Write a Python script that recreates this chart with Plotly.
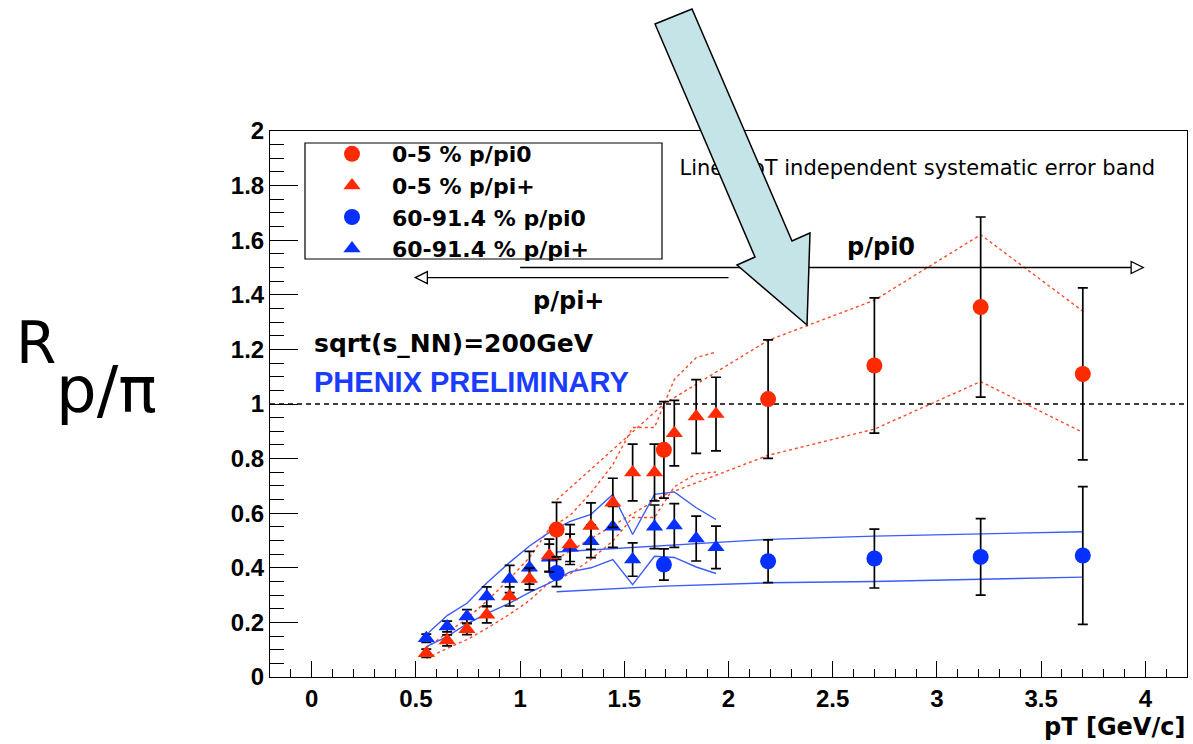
import plotly.graph_objects as go

# ---------------- data ----------------
# 0-5 % and 60-91.4 % p/pi0 (circles)
pt_pi0 = [1.175, 1.69, 2.19, 2.70, 3.21, 3.70]
central_pi0 = [0.540, 0.832, 1.018, 1.141, 1.355, 1.110]
central_pi0_err = [0.100, 0.177, 0.217, 0.248, 0.330, 0.315]
periph_pi0 = [0.381, 0.412, 0.424, 0.434, 0.440, 0.445]
periph_pi0_err = [0.050, 0.057, 0.078, 0.108, 0.140, 0.252]

# 0-5 % p/pi+ (red triangles)
pt_pip = [0.55, 0.65, 0.745, 0.84, 0.95, 1.045, 1.14, 1.24, 1.34, 1.445, 1.54, 1.645, 1.74, 1.845, 1.94]
central_pip = [0.087, 0.134, 0.175, 0.228, 0.295, 0.359, 0.445, 0.485, 0.553, 0.638, 0.749, 0.749, 0.893, 0.954, 0.963]
central_pip_err = [0.015, 0.02, 0.02, 0.03, 0.035, 0.04, 0.06, 0.073, 0.085, 0.09, 0.104, 0.104, 0.12, 0.135, 0.135]

# 60-91.4 % p/pi+ (blue triangles)
periph_pip = [0.142, 0.185, 0.222, 0.295, 0.359, 0.400, 0.437, 0.473, 0.497, 0.550, 0.430, 0.550, 0.555, 0.507, 0.475]
periph_pip_err = [0.015, 0.02, 0.025, 0.035, 0.05, 0.06, 0.05, 0.05, 0.06, 0.075, 0.061, 0.08, 0.08, 0.082, 0.078]

# systematic error bands
central_pi0_band_hi = [0.648, 1.000, 1.233, 1.380, 1.620, 1.340]
central_pi0_band_lo = [0.432, 0.666, 0.812, 0.908, 1.082, 0.896]
periph_pi0_band_hi = [0.458, 0.482, 0.504, 0.516, 0.524, 0.532]
periph_pi0_band_lo = [0.312, 0.333, 0.345, 0.350, 0.358, 0.366]
central_pip_band_hi = [0.106, 0.163, 0.214, 0.278, 0.360, 0.438, 0.543, 0.592, 0.675, 0.778, 0.914, 0.914, 1.090, 1.170, 1.190]
central_pip_band_lo = [0.068, 0.105, 0.137, 0.178, 0.230, 0.280, 0.347, 0.378, 0.431, 0.498, 0.584, 0.584, 0.697, 0.744, 0.751]
periph_pip_band_hi = [0.155, 0.225, 0.270, 0.344, 0.420, 0.480, 0.530, 0.570, 0.596, 0.669, 0.522, 0.669, 0.678, 0.620, 0.577]
periph_pip_band_lo = [0.111, 0.148, 0.195, 0.232, 0.271, 0.310, 0.344, 0.385, 0.400, 0.430, 0.338, 0.442, 0.438, 0.403, 0.379]

legend_names = ["0-5 % p/pi0", "0-5 % p/pi+", "60-91.4 % p/pi0", "60-91.4 % p/pi+"]

# ---------------- style ----------------
RED = "#ff2a00"
BLUE = "#0530ff"
RED_BAND = "#ff4a2a"
BLUE_BAND = "#3a5cff"
FONT = "Liberation Sans"
WIDE = "DejaVu Sans"

W, H = 1193, 744
L, R, T, B = 270, 6, 131, 67
PW, PH = W - L - R, H - T - B


def pxx(px):
    return (px - L) / PW


def pxy(py):
    return (H - B - py) / PH


fig = go.Figure()

# bands
for xs, ys, col, dash in [
    (pt_pip, central_pip_band_hi, RED_BAND, "3px,3px"),
    (pt_pip, central_pip_band_lo, RED_BAND, "3px,3px"),
    (pt_pi0, central_pi0_band_hi, RED_BAND, "3px,3px"),
    (pt_pi0, central_pi0_band_lo, RED_BAND, "3px,3px"),
    (pt_pip, periph_pip_band_hi, BLUE_BAND, "solid"),
    (pt_pip, periph_pip_band_lo, BLUE_BAND, "solid"),
    (pt_pi0, periph_pi0_band_hi, BLUE_BAND, "solid"),
    (pt_pi0, periph_pi0_band_lo, BLUE_BAND, "solid"),
]:
    fig.add_trace(go.Scatter(x=xs, y=ys, mode="lines", showlegend=False, hoverinfo="skip",
                             line=dict(color=col, width=1.4, dash=dash)))

err_style = dict(type="data", color="black", thickness=1.7, width=5)

fig.add_trace(go.Scatter(x=pt_pip, y=periph_pip, mode="markers", name=legend_names[3], legendrank=4,
                         marker=dict(symbol="triangle-up", size=15, color=BLUE),
                         error_y=dict(array=periph_pip_err, **err_style)))
fig.add_trace(go.Scatter(x=pt_pi0, y=periph_pi0, mode="markers", name=legend_names[2], legendrank=3,
                         marker=dict(symbol="circle", size=16, color=BLUE),
                         error_y=dict(array=periph_pi0_err, **err_style)))
fig.add_trace(go.Scatter(x=pt_pip, y=central_pip, mode="markers", name=legend_names[1], legendrank=2,
                         marker=dict(symbol="triangle-up", size=15, color=RED),
                         error_y=dict(array=central_pip_err, **err_style)))
fig.add_trace(go.Scatter(x=pt_pi0, y=central_pi0, mode="markers", name=legend_names[0], legendrank=1,
                         marker=dict(symbol="circle", size=16, color=RED),
                         error_y=dict(array=central_pi0_err, **err_style)))

# text partly hidden under the big arrow
fig.add_trace(go.Scatter(x=[1.765], y=[1.858], mode="text", showlegend=False, hoverinfo="skip",
                         text=["Linear pT independent systematic error band"], textposition="middle right",
                         textfont=dict(family=WIDE, size=21, color="black")))

shapes = []
# dashed reference line at 1
shapes.append(dict(type="line", xref="paper", yref="y", x0=0, x1=1, y0=1, y1=1,
                   line=dict(color="black", width=1.3, dash="5px,4px"), layer="below"))
# p/pi0 and p/pi+ range arrows
ARR_PI0 = dict(x0=1.0, x1=3.99, y=1.50)
ARR_PIP = dict(x0=2.0, x1=0.497, y=1.463)
HEAD_L, HEAD_H = 0.058, 0.022
for a in (ARR_PI0, ARR_PIP):
    sgn = 1 if a["x1"] > a["x0"] else -1
    base = a["x1"] - sgn * HEAD_L
    shapes.append(dict(type="line", xref="x", yref="y", x0=a["x0"], x1=base, y0=a["y"], y1=a["y"],
                       line=dict(color="black", width=1.3)))
    shapes.append(dict(type="path", xref="x", yref="y",
                       path=f"M {base},{a['y'] - HEAD_H} L {a['x1']},{a['y']} L {base},{a['y'] + HEAD_H} Z",
                       fillcolor="white", line=dict(color="black", width=1.3)))
# legend frame
LEG_BOX = (305, 143, 662, 259)
shapes.append(dict(type="rect", xref="paper", yref="paper",
                   x0=pxx(LEG_BOX[0]), x1=pxx(LEG_BOX[2]), y0=pxy(LEG_BOX[3]), y1=pxy(LEG_BOX[1]),
                   fillcolor="white", line=dict(color="black", width=1.2), layer="above"))
# big light-blue pointer arrow (decoration)
BIG_ARROW = [(655, 24), (692, 9), (792, 241), (810, 233), (807, 325), (737, 265), (755, 257)]
path = "M " + " L ".join(f"{pxx(x):.5f},{pxy(y):.5f}" for x, y in BIG_ARROW) + " Z"
shapes.append(dict(type="path", xref="paper", yref="paper", path=path,
                   fillcolor="#c5e4e8", line=dict(color="black", width=1.5), layer="above"))

annotations = [
    dict(text="p/pi0", x=2.73, y=1.575, xref="x", yref="y", showarrow=False,
         font=dict(family=WIDE, size=24, color="black", weight="bold")),
    dict(text="p/pi+", x=1.23, y=1.378, xref="x", yref="y", showarrow=False,
         font=dict(family=WIDE, size=24, color="black", weight="bold")),
    dict(text="sqrt(s_NN)=200GeV", x=0.0, y=1.22, xref="x", yref="y", xanchor="left", showarrow=False,
         font=dict(family=WIDE, size=25, color="black", weight="bold")),
    dict(text="PHENIX PRELIMINARY", x=0.0, y=1.081, xref="x", yref="y", xanchor="left", showarrow=False,
         font=dict(family=FONT, size=29, color="#1a3cff", weight="bold")),
    dict(text="pT [GeV/c]", x=1.0, y=pxy(727), xref="paper", yref="paper", xanchor="right",
         yanchor="middle", showarrow=False,
         font=dict(family=WIDE, size=24, color="black", weight="bold")),
    dict(text="R", x=pxx(14), y=pxy(343), xref="paper", yref="paper", xanchor="left", yanchor="middle",
         showarrow=False, font=dict(family=WIDE, size=58, color="black")),
    dict(text="p/π", x=pxx(54), y=pxy(390), xref="paper", yref="paper", xanchor="left", yanchor="middle",
         showarrow=False, font=dict(family=WIDE, size=64, color="black")),
]

fig.update_layout(
    width=W, height=H, margin=dict(l=L, r=R, t=T, b=B, autoexpand=False),
    paper_bgcolor="white", plot_bgcolor="white",
    font=dict(family=FONT, color="black"),
    shapes=shapes, annotations=annotations,
    showlegend=True,
    legend=dict(x=pxx(312), y=pxy(133), xanchor="left", yanchor="top",
                bgcolor="rgba(0,0,0,0)", borderwidth=0, itemwidth=70,
                font=dict(family=WIDE, size=22, color="black", weight="bold"),
                tracegroupgap=0),
)

fig.update_xaxes(range=[-0.2, 4.2], showline=True, mirror=True, linecolor="black", linewidth=1,
                 showgrid=False, zeroline=False, ticks="inside", ticklen=16, tickcolor="black",
                 tick0=0, dtick=0.5,
                 minor=dict(ticks="inside", ticklen=8, dtick=0.1, tick0=0, tickcolor="black", showgrid=False),
                 tickfont=dict(family=FONT, size=24, color="black", weight="bold"))
fig.update_yaxes(range=[0, 2], showline=True, mirror=True, linecolor="black", linewidth=1,
                 showgrid=False, zeroline=False, ticks="inside", ticklen=28, tickcolor="black",
                 tick0=0, dtick=0.2,
                 minor=dict(ticks="inside", ticklen=14, dtick=0.05, tick0=0, tickcolor="black", showgrid=False),
                 tickfont=dict(family=FONT, size=24, color="black", weight="bold"))

fig.write_html("out.html")
